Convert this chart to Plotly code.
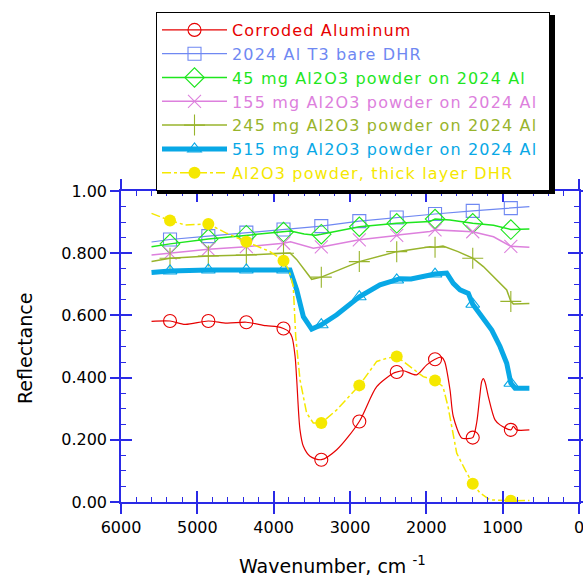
import plotly.graph_objects as go

# ---------------- data ----------------
MARKER_WN = [5358, 4856, 4358, 3871, 3376, 2878, 2388, 1886, 1392, 893]

corroded_wn = [5600, 5358, 5160, 4856, 4615, 4358, 4100, 3960, 3871, 3800, 3760, 3720, 3698, 3655,
               3611, 3524, 3376, 3174, 2878, 2650, 2433, 2388, 2300, 2127, 1995, 1886, 1800, 1760,
               1690, 1647, 1537, 1471, 1392, 1341, 1300, 1274, 1253, 1230, 1188, 1100, 1035, 893,
               860, 816, 650]
corroded_r = [0.581, 0.582, 0.571, 0.582, 0.575, 0.578, 0.567, 0.564, 0.558, 0.548, 0.530, 0.470,
              0.393, 0.232, 0.179, 0.147, 0.136, 0.168, 0.259, 0.371, 0.414, 0.418, 0.422, 0.409,
              0.441, 0.459, 0.466, 0.452, 0.361, 0.275, 0.206, 0.204, 0.207, 0.254, 0.340, 0.388,
              0.397, 0.385, 0.339, 0.264, 0.248, 0.232, 0.243, 0.232, 0.232]

bare_wn = [5600, 5358, 4856, 4358, 3871, 3376, 2878, 2388, 1886, 1392, 893, 650]
bare_r = [0.836, 0.844, 0.855, 0.866, 0.876, 0.887, 0.903, 0.915, 0.926, 0.936, 0.945, 0.950]

mg45_wn = [5600, 5358, 4856, 4358, 3871, 3780, 3600, 3450, 3376, 2878, 2388, 1952, 1886, 1690,
           1392, 1120, 893, 650]
mg45_r = [0.821, 0.830, 0.846, 0.858, 0.868, 0.871, 0.862, 0.858, 0.861, 0.885, 0.896, 0.902,
          0.910, 0.907, 0.896, 0.890, 0.876, 0.878]

mg155_wn = [5600, 5358, 4856, 4358, 3871, 3780, 3600, 3480, 3376, 2878, 2388, 2345, 1952, 1886,
            1392, 1120, 893, 650]
mg155_r = [0.794, 0.800, 0.813, 0.821, 0.832, 0.837, 0.824, 0.816, 0.820, 0.843, 0.857, 0.859,
           0.870, 0.875, 0.869, 0.853, 0.822, 0.819]

mg245_wn = [5600, 5358, 4856, 4358, 3871, 3786, 3700, 3611, 3502, 3376, 2878, 2388, 1952, 1886,
            1782, 1585, 1428, 1392, 1253, 1100, 947, 893, 860, 650]
mg245_r = [0.773, 0.784, 0.791, 0.794, 0.800, 0.801, 0.780, 0.752, 0.716, 0.723, 0.773, 0.805,
           0.821, 0.819, 0.823, 0.805, 0.786, 0.784, 0.757, 0.720, 0.682, 0.645, 0.637, 0.638]

mg515_wn = [5600, 5358, 4856, 4358, 3871, 3786, 3698, 3611, 3502, 3376, 3174, 2878, 2607, 2388,
            2345, 2200, 1995, 1886, 1733, 1647, 1559, 1450, 1392, 1253, 1143, 1035, 947, 893,
            838, 650]
mg515_r = [0.738, 0.743, 0.746, 0.746, 0.746, 0.746, 0.682, 0.596, 0.556, 0.570, 0.602, 0.660,
           0.698, 0.714, 0.718, 0.717, 0.728, 0.733, 0.736, 0.703, 0.682, 0.671, 0.636, 0.591,
           0.553, 0.500, 0.446, 0.382, 0.366, 0.366]

thick_wn = [5600, 5358, 5160, 4856, 4615, 4358, 4048, 3871, 3800, 3743, 3711, 3655, 3568, 3481,
            3376, 3174, 2878, 2650, 2519, 2388, 2214, 2040, 1886, 1782, 1716, 1602, 1493, 1392,
            1297, 1166, 893, 650]
thick_r = [0.928, 0.905, 0.891, 0.894, 0.864, 0.837, 0.805, 0.776, 0.745, 0.693, 0.532, 0.393,
           0.286, 0.254, 0.254, 0.296, 0.375, 0.452, 0.462, 0.468, 0.436, 0.403, 0.391, 0.371,
           0.307, 0.157, 0.104, 0.059, 0.029, 0.007, 0.004, 0.005]

X_TICKS = [6000, 5000, 4000, 3000, 2000, 1000, 0]
Y_TICKS = [0.0, 0.2, 0.4, 0.6, 0.8, 1.0]
Y_TICKTEXT = ["0.00", "0.200", "0.400", "0.600", "0.800", "1.00"]

SERIES = [
    dict(name="Corroded Aluminum", wn=corroded_wn, r=corroded_r, color="#e60000", width=1.2,
         dash="solid", shape="spline", symbol="circle-open", size=13, fill=False),
    dict(name="2024 Al T3 bare DHR", wn=bare_wn, r=bare_r, color="#6f88f2", width=1.2,
         dash="solid", shape="linear", symbol="square-open", size=13, fill=False),
    dict(name="45 mg Al2O3 powder on 2024 Al", wn=mg45_wn, r=mg45_r, color="#1ee61e", width=1.5,
         dash="solid", shape="linear", symbol="diamond-open", size=15, fill=False),
    dict(name="155 mg Al2O3 powder on 2024 Al", wn=mg155_wn, r=mg155_r, color="#dd80dd", width=1.5,
         dash="solid", shape="linear", symbol="x-thin-open", size=13, fill=False),
    dict(name="245 mg Al2O3 powder on 2024 Al", wn=mg245_wn, r=mg245_r, color="#98b42c", width=1.5,
         dash="solid", shape="linear", symbol="cross-thin-open", size=15, fill=False),
    dict(name="515 mg Al2O3 powder on 2024 Al", wn=mg515_wn, r=mg515_r, color="#08a8e6", width=5,
         dash="solid", shape="linear", symbol="triangle-up-open", size=12, fill=False),
    dict(name="Al2O3 powder, thick layer DHR", wn=thick_wn, r=thick_r, color="#f5e800", width=1.5,
         dash="dashdot", shape="linear", symbol="circle", size=12, fill=True),
]

AXIS_BLUE = "#2a2ae6"
FONT = "DejaVu Sans"

fig = go.Figure()

for s in SERIES:
    marker = dict(symbol=s["symbol"], size=s["size"], color=s["color"],
                  line=dict(color=s["color"], width=0 if s["fill"] else 1.1))
    # data line
    fig.add_trace(go.Scatter(x=s["wn"], y=s["r"], mode="lines", showlegend=False,
                             line=dict(color=s["color"], width=s["width"], dash=s["dash"],
                                       shape=s["shape"], smoothing=0.8 if s["shape"] == "spline" else None),
                             hoverinfo="skip"))
    # markers at every ~500 cm-1
    mx = [w for w in s["wn"] if w in MARKER_WN]
    my = [v for w, v in zip(s["wn"], s["r"]) if w in MARKER_WN]
    fig.add_trace(go.Scatter(x=mx, y=my, mode="markers", showlegend=False, marker=marker,
                             hoverinfo="skip"))
    # legend entry
    fig.add_trace(go.Scatter(x=[None], y=[None], mode="lines+markers",
                             name=(f'<span style="color:{s["color"]};letter-spacing:1.15px">'
                                   f'{s["name"]}\u00a0</span>'),
                             line=dict(color=s["color"], width=s["width"], dash=s["dash"]),
                             marker=marker))

# helper trace to activate the overlay axes (inner ticks)
fig.add_trace(go.Scatter(x=[None], y=[None], xaxis="x2", yaxis="y2", showlegend=False,
                         hoverinfo="skip"))

W, H = 583, 577
ML, MR, MT, MB = 121, 4, 191, 75
PW, PH = W - ML - MR, H - MT - MB


def px_x(p):
    return (p - ML) / PW


def px_y(p):
    return (H - MB - p) / PH


LEG_L, LEG_T = 156, 12

fig.update_layout(
    width=W, height=H,
    margin=dict(l=ML, r=MR, t=MT, b=MB, pad=0, autoexpand=False),
    paper_bgcolor="white", plot_bgcolor="white",
    font=dict(family=FONT, size=16, color="black"),
    showlegend=True,
    legend=dict(xref="container", yref="container", x=LEG_L / W, y=1 - LEG_T / H,
                xanchor="left", yanchor="top",
                bgcolor="white", bordercolor="black", borderwidth=1,
                font=dict(family=FONT, size=16), itemwidth=65, traceorder="normal"),
    xaxis=dict(range=[6000, 0], tickvals=X_TICKS, ticks="outside", ticklen=10, tickwidth=1.5,
               tickcolor=AXIS_BLUE, showline=True, linecolor=AXIS_BLUE, linewidth=1.5,
               mirror="allticks", showgrid=False, zeroline=False, automargin=False,
               ticklabeloverflow="allow",
               tickfont=dict(family=FONT, size=16, color="black")),
    xaxis2=dict(range=[6000, 0], overlaying="x", anchor="y2", side="bottom",
                tick0=0, dtick=1000, ticks="inside", ticklen=11, tickwidth=1.5, tickcolor=AXIS_BLUE,
                minor=dict(ticks="inside", ticklen=5, tickwidth=1, tickcolor=AXIS_BLUE, dtick=200),
                showticklabels=False, showline=False, mirror="allticks", automargin=False,
                showgrid=False, zeroline=False),
    yaxis=dict(range=[0, 1], tickvals=Y_TICKS, ticktext=Y_TICKTEXT, ticks="outside", ticklen=9,
               tickwidth=1.5, tickcolor=AXIS_BLUE, showline=True, linecolor=AXIS_BLUE, linewidth=1.5,
               mirror="allticks", showgrid=False, zeroline=False, automargin=False,
               ticklabeloverflow="allow",
               tickfont=dict(family=FONT, size=16, color="black")),
    yaxis2=dict(range=[0, 1], overlaying="y", anchor="x2", side="left",
                tick0=0, dtick=0.2, ticks="inside", ticklen=11, tickwidth=1.5, tickcolor=AXIS_BLUE,
                minor=dict(ticks="inside", ticklen=5, tickwidth=1, tickcolor=AXIS_BLUE, dtick=0.05),
                showticklabels=False, showline=False, mirror="allticks", automargin=False,
                showgrid=False, zeroline=False),
    annotations=[
        dict(text="Wavenumber, cm <sup>-1</sup>", xref="paper", yref="paper",
             x=px_x(332), y=px_y(565), xanchor="center", yanchor="middle", showarrow=False,
             font=dict(family=FONT, size=19, color="black")),
        dict(text="Reflectance", xref="paper", yref="paper", textangle=-90,
             x=px_x(25), y=px_y(349), xanchor="center", yanchor="middle", showarrow=False,
             font=dict(family=FONT, size=19, color="black")),
    ],
    shapes=[
        dict(type="rect", xref="paper", yref="paper", layer="above",
             x0=px_x(157), x1=px_x(555), y0=px_y(194), y1=px_y(15),
             fillcolor="black", line=dict(width=0)),
    ],
)

fig.write_html("out.html", config={"displayModeBar": False},
               post_script="document.body.style.margin='0';document.body.style.overflow='hidden';")
